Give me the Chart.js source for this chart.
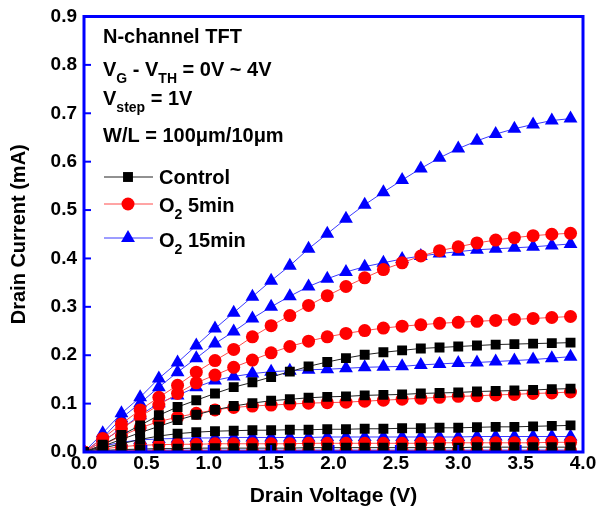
<!DOCTYPE html>
<html><head><meta charset="utf-8">
<script src="https://cdn.jsdelivr.net/npm/chart.js@4.4.0/dist/chart.umd.min.js"></script>
<style>html,body{margin:0;padding:0;background:#fff;}#wrap{width:597px;height:516px;position:relative;}</style>
</head><body><div id="wrap"><canvas id="c"></canvas></div>
<script>
// Drain voltage sweep (V)
const drainVoltage = [0,0.15,0.3,0.45,0.6,0.75,0.9,1.05,1.2,1.35,1.5,1.65,1.8,1.95,2.1,2.25,2.4,2.55,2.7,2.85,3.0,3.15,3.3,3.45,3.6,3.75,3.9];

// Control (mA) for VG-VTH = 4,3,2,1,0 V
const control4 = [0,0.015,0.035,0.055,0.076,0.093,0.107,0.121,0.134,0.144,0.155,0.166,0.177,0.186,0.194,0.201,0.206,0.210,0.214,0.216,0.218,0.220,0.222,0.223,0.224,0.225,0.226];
const control3 = [0,0.012,0.026,0.040,0.053,0.066,0.077,0.087,0.095,0.101,0.106,0.109,0.112,0.114,0.115,0.117,0.118,0.119,0.121,0.122,0.123,0.125,0.126,0.127,0.128,0.130,0.131];
const control2 = [0,0.008,0.017,0.026,0.033,0.038,0.041,0.043,0.044,0.045,0.045,0.046,0.046,0.047,0.047,0.048,0.048,0.049,0.049,0.050,0.050,0.051,0.052,0.052,0.053,0.054,0.055];
const control1 = [0,0.003,0.005,0.006,0.007,0.007,0.008,0.008,0.008,0.008,0.008,0.008,0.009,0.009,0.009,0.009,0.009,0.009,0.009,0.009,0.009,0.010,0.010,0.010,0.010,0.010,0.010];
const control0 = [0,0.001,0.001,0.001,0.001,0.001,0.001,0.001,0.001,0.001,0.001,0.001,0.001,0.001,0.001,0.001,0.001,0.001,0.001,0.001,0.001,0.001,0.001,0.001,0.001,0.001,0.001];

// O2 5min (mA)
const o2five4 = [0,0.028,0.058,0.087,0.113,0.138,0.165,0.189,0.212,0.238,0.261,0.282,0.303,0.323,0.342,0.360,0.377,0.391,0.405,0.416,0.424,0.432,0.438,0.443,0.447,0.450,0.452];
const o2five3 = [0,0.022,0.048,0.073,0.097,0.121,0.143,0.159,0.175,0.190,0.205,0.218,0.229,0.238,0.245,0.251,0.256,0.260,0.263,0.266,0.268,0.270,0.272,0.274,0.276,0.278,0.280];
const o2five2 = [0,0.015,0.033,0.050,0.063,0.072,0.080,0.087,0.092,0.095,0.097,0.099,0.101,0.102,0.103,0.105,0.107,0.109,0.111,0.113,0.115,0.116,0.118,0.119,0.121,0.122,0.124];
const o2five1 = [0,0.006,0.011,0.014,0.015,0.016,0.016,0.017,0.017,0.017,0.017,0.017,0.018,0.018,0.018,0.018,0.018,0.018,0.018,0.019,0.019,0.019,0.019,0.019,0.019,0.020,0.020];
const o2five0 = [0,0.002,0.003,0.003,0.003,0.003,0.003,0.003,0.003,0.003,0.003,0.003,0.003,0.003,0.003,0.003,0.003,0.003,0.003,0.003,0.003,0.003,0.003,0.003,0.003,0.003,0.003];

// O2 15min (mA)
const o2fifteen4 = [0,0.039,0.080,0.113,0.152,0.185,0.220,0.255,0.288,0.321,0.354,0.385,0.420,0.451,0.482,0.511,0.537,0.562,0.586,0.608,0.627,0.643,0.657,0.668,0.677,0.685,0.689];
const o2fifteen3 = [0,0.029,0.070,0.101,0.134,0.165,0.194,0.224,0.249,0.276,0.300,0.322,0.342,0.358,0.372,0.383,0.391,0.399,0.405,0.410,0.414,0.418,0.420,0.422,0.424,0.427,0.430];
const o2fifteen2 = [0,0.022,0.048,0.076,0.101,0.117,0.134,0.148,0.156,0.162,0.166,0.168,0.170,0.171,0.173,0.175,0.176,0.177,0.180,0.182,0.184,0.185,0.187,0.189,0.191,0.194,0.197];
const o2fifteen1 = [0,0.012,0.020,0.025,0.027,0.028,0.029,0.029,0.030,0.030,0.030,0.030,0.030,0.031,0.031,0.031,0.031,0.031,0.031,0.031,0.031,0.032,0.032,0.032,0.032,0.032,0.032];
const o2fifteen0 = [0,0.003,0.004,0.004,0.004,0.004,0.004,0.004,0.004,0.004,0.004,0.004,0.004,0.004,0.004,0.004,0.004,0.004,0.004,0.004,0.004,0.004,0.004,0.004,0.004,0.004,0.004];

// Axis ticks
const xTickValues = [0,0.5,1.0,1.5,2.0,2.5,3.0,3.5,4.0];
const xTickLabels = ['0.0','0.5','1.0','1.5','2.0','2.5','3.0','3.5','4.0'];
const yTickValues = [0,0.1,0.2,0.3,0.4,0.5,0.6,0.7,0.8,0.9];
const yTickLabels = ['0.0','0.1','0.2','0.3','0.4','0.5','0.6','0.7','0.8','0.9'];

const seriesNames = ['Control','O2 5min','O2 15min'];

const FONT = '"Liberation Sans", Arial, sans-serif';
const groups = [
  {name:seriesNames[0], sets:[control4,control3,control2,control1,control0], fill:'#000000', line:'#222222', style:'rect', r:7, order:0},
  {name:seriesNames[1], sets:[o2five4,o2five3,o2five2,o2five1,o2five0], fill:'#ff0000', line:'#ff4a4a', style:'circle', r:6.5, order:1},
  {name:seriesNames[2], sets:[o2fifteen4,o2fifteen3,o2fifteen2,o2fifteen1,o2fifteen0], fill:'#0000ff', line:'#3a3aff', style:'triangle', r:8, order:2}
];
const datasets = [];
groups.forEach(g=>{
  g.sets.forEach((vals,k)=>{
    datasets.push({
      label: g.name + ' ' + (4-k) + 'V',
      data: drainVoltage.map((v,i)=>({x:v,y:vals[i]})),
      borderColor: g.line, borderWidth: 1,
      pointStyle: g.style, pointRadius: g.r, pointHoverRadius: g.r,
      pointBackgroundColor: g.fill, pointBorderColor: g.fill, pointBorderWidth: 0,
      tension: 0, order: g.order
    });
  });
});

function drawRich(ctx, x, y, parts, size, subSize){
  let cx = x;
  parts.forEach(p=>{
    const sub = p[1];
    ctx.font = 'bold ' + (sub?subSize:size) + 'px ' + FONT;
    ctx.fillText(p[0], cx, sub ? y + 7 : y);
    cx += ctx.measureText(p[0]).width;
  });
}

function marker(ctx, style, x, y, r, color){
  ctx.fillStyle = color;
  ctx.beginPath();
  if(style==='rect'){ const s=Math.SQRT1_2*r; ctx.rect(x-s,y-s,2*s,2*s); }
  else if(style==='circle'){ ctx.arc(x,y,r,0,Math.PI*2); }
  else { ctx.moveTo(x, y-r); ctx.lineTo(x+r*Math.sin(2*Math.PI/3), y-r*Math.cos(2*Math.PI/3)); ctx.lineTo(x+r*Math.sin(4*Math.PI/3), y-r*Math.cos(4*Math.PI/3)); ctx.closePath(); }
  ctx.fill();
}

const decor = {
  id:'decor',
  afterDraw(chart){
    const {ctx, chartArea:a, scales:{x,y}} = chart;
    ctx.save();
    // frame
    ctx.strokeStyle = '#0000ff'; ctx.lineWidth = 3;
    ctx.strokeRect(a.left, a.top, a.right-a.left, a.bottom-a.top);
    ctx.lineWidth = 2;
    yTickValues.forEach(v=>{ const py=y.getPixelForValue(v); ctx.beginPath(); ctx.moveTo(a.left,py); ctx.lineTo(a.left+7,py); ctx.stroke(); });
    xTickValues.forEach(v=>{ const px=x.getPixelForValue(v); ctx.beginPath(); ctx.moveTo(px,a.bottom); ctx.lineTo(px,a.bottom-7); ctx.stroke(); });
    // annotation
    ctx.fillStyle = '#000'; ctx.textBaseline = 'alphabetic'; ctx.textAlign = 'left';
    drawRich(ctx, 103, 43, [['N-channel TFT']], 20, 14);
    drawRich(ctx, 103, 76, [['V'],['G',1],[' - V'],['TH',1],[' = 0V ~ 4V']], 20, 14);
    drawRich(ctx, 103, 105, [['V'],['step',1],[' = 1V']], 20, 14);
    drawRich(ctx, 103, 142, [['W/L = 100\u03bcm/10\u03bcm']], 20, 14);
    // legend
    const ly = [177, 204, 238];
    const lt = [184, 212, 247];
    const labels = [[['Control']], [['O'],['2',1],[' 5min']], [['O'],['2',1],[' 15min']]];
    groups.forEach((g,i)=>{
      ctx.strokeStyle = g.line; ctx.lineWidth = 1;
      ctx.beginPath(); ctx.moveTo(104, ly[i]); ctx.lineTo(153, ly[i]); ctx.stroke();
      marker(ctx, g.style, 128, ly[i], g.r, g.fill);
      ctx.fillStyle = '#000';
      drawRich(ctx, 159, lt[i], labels[i], 20, 14);
    });
    ctx.restore();
  }
};

new Chart(document.getElementById('c'), {
  type:'line',
  data:{datasets},
  options:{
    responsive:true, maintainAspectRatio:false, animation:false,
    layout:{padding:{left:0,right:14,top:15,bottom:0}},
    plugins:{legend:{display:false}, tooltip:{enabled:false}},
    scales:{
      x:{type:'linear', min:0, max:4.0,
        afterBuildTicks(s){ s.ticks = xTickValues.map(v=>({value:v})); },
        afterFit(s){ s.height = 64; },
        grid:{display:false, drawTicks:false}, border:{display:false},
        ticks:{padding:0, color:'#000', font:{family:FONT, size:19, weight:'bold'}, maxRotation:0, autoSkip:false,
          callback:(v)=>{ const i=xTickValues.indexOf(v); return i>=0?xTickLabels[i]:''; }},
        title:{display:true, text:'Drain Voltage (V)', color:'#000', font:{family:FONT, size:21, weight:'bold'}, padding:{top:4,bottom:7}}
      },
      y:{type:'linear', min:0, max:0.9,
        afterBuildTicks(s){ s.ticks = yTickValues.map(v=>({value:v})); },
        afterFit(s){ s.width = 84; },
        grid:{display:false, drawTicks:false}, border:{display:false},
        ticks:{padding:7, color:'#000', font:{family:FONT, size:19, weight:'bold', lineHeight:1}, autoSkip:false,
          callback:(v)=>{ const i=yTickValues.findIndex(t=>Math.abs(t-v)<1e-9); return i>=0?yTickLabels[i]:''; }},
        title:{display:true, text:'Drain Current (mA)', color:'#000', font:{family:FONT, size:20, weight:'bold'}, padding:{top:7,bottom:4}}
      }
    }
  },
  plugins:[decor]
});
</script></body></html>
